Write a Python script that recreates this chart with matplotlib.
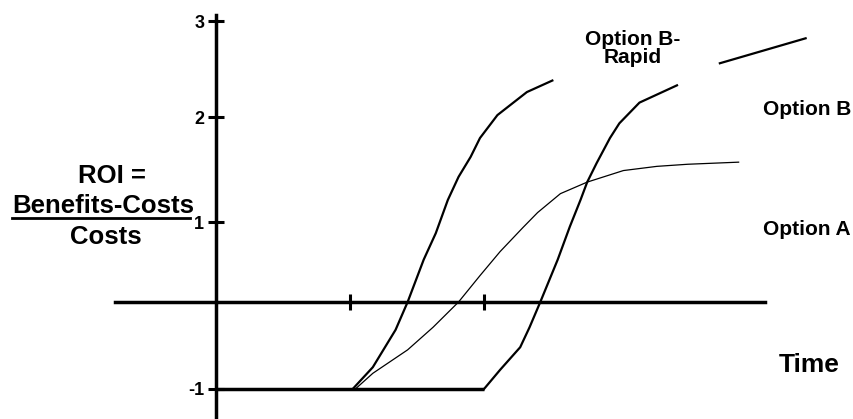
import numpy as np
import matplotlib
matplotlib.use("Agg")
import matplotlib.pyplot as plt

plt.rcParams['font.family'] = ['Liberation Sans', 'DejaVu Sans']
plt.rcParams['font.weight'] = 'bold'

# Curves (time, ROI)
base_time = [0.0, 2.0]
base_roi = [-1.0, -1.0]

rapid_time = [1.02, 1.17, 1.34, 1.43, 1.55, 1.64, 1.73, 1.81, 1.90, 1.97, 2.10, 2.32, 2.51,
              np.nan, 3.76, 4.08, 4.40]
rapid_roi = [-1.0, -0.75, -0.32, 0.0, 0.53, 0.86, 1.21, 1.43, 1.62, 1.80, 2.02, 2.26, 2.38,
             np.nan, 2.56, 2.69, 2.82]

a_time = [1.04, 1.17, 1.43, 1.62, 1.81, 1.97, 2.12, 2.29, 2.40, 2.57, 2.77, 3.04, 3.29, 3.52, 3.90]
a_roi = [-1.0, -0.82, -0.55, -0.29, 0.0, 0.33, 0.63, 0.93, 1.09, 1.27, 1.38, 1.49, 1.53, 1.55, 1.57]

b_time = [2.0, 2.12, 2.27, 2.34, 2.42, 2.55, 2.64, 2.72, 2.77, 2.84, 2.94, 3.01, 3.16, 3.44]
b_roi = [-1.0, -0.78, -0.52, -0.29, 0.0, 0.53, 0.94, 1.21, 1.38, 1.56, 1.80, 1.94, 2.15, 2.33]

y_ticks = [-1, 1, 2, 3]
x_ticks = [1, 2]

# the hand-drawn axis is not evenly spaced
roi_knots = [-3, -1, 0, 1, 2, 3, 5]
drawn_knots = [-174, 0, 87, 167, 272, 368, 560]


def fwd(v):
    return np.interp(v, roi_knots, drawn_knots)


def inv(h):
    return np.interp(h, drawn_knots, roi_knots)


fig = plt.figure(figsize=(8.54, 4.19), dpi=100)
ax = fig.add_axes([0, 0, 1, 1])
ax.set_yscale('function', functions=(fwd, inv))
ax.set_xlim(-1.612, 4.761)
ax.set_ylim(-1.345, 3.219)

ax.plot(base_time, base_roi, color='black', lw=2.5, solid_capstyle='butt')
ax.plot(rapid_time, rapid_roi, color='black', lw=1.6)
ax.plot(a_time, a_roi, color='black', lw=0.9)
ax.plot(b_time, b_roi, color='black', lw=1.6)

ax.spines['top'].set_visible(False)
ax.spines['right'].set_visible(False)
ax.spines['left'].set_position(('data', 0))
ax.spines['bottom'].set_position(('data', 0))
ax.spines['left'].set_bounds(-1.345, 3.06)
ax.spines['bottom'].set_bounds(-0.754, 4.097)
ax.spines['left'].set_linewidth(2.5)
ax.spines['bottom'].set_linewidth(2.5)

ax.set_yticks(y_ticks)
ax.set_yticklabels([str(v) for v in y_ticks])
ax.set_xticks(x_ticks)
ax.set_xticklabels([])
ax.minorticks_off()
ax.tick_params(axis='both', direction='inout', length=11, width=2.2)
ax.tick_params(axis='y', labelsize=13, pad=3)

# labels
ax.text(3.11, 2.75, 'Option B-', fontsize=15, ha='center', va='baseline')
ax.text(3.11, 2.56, 'Rapid', fontsize=15, ha='center', va='baseline')
ax.text(4.08, 2.02, 'Option B', fontsize=15, ha='left', va='baseline')
ax.text(4.08, 0.84, 'Option A', fontsize=15, ha='left', va='baseline')
ax.text(4.20, -0.80, 'Time', fontsize=19, ha='left', va='baseline')

ax.text(-0.78, 1.37, 'ROI =', fontsize=18.5, ha='center', va='baseline')
num = ax.text(-0.84, 1.09, 'Benefits-Costs', fontsize=18.5, ha='center', va='baseline')
ax.text(-0.82, 0.73, 'Costs', fontsize=18.5, ha='center', va='baseline')

# underline the numerator
fig.canvas.draw()
bb = num.get_window_extent()
x0 = ax.transData.inverted().transform((bb.x0, 0))[0]
x1 = ax.transData.inverted().transform((bb.x1, 0))[0]
ax.plot([x0, x1 - 0.03], [1.04, 1.04], color='black', lw=2)

fig.savefig('out.png', dpi=100)
